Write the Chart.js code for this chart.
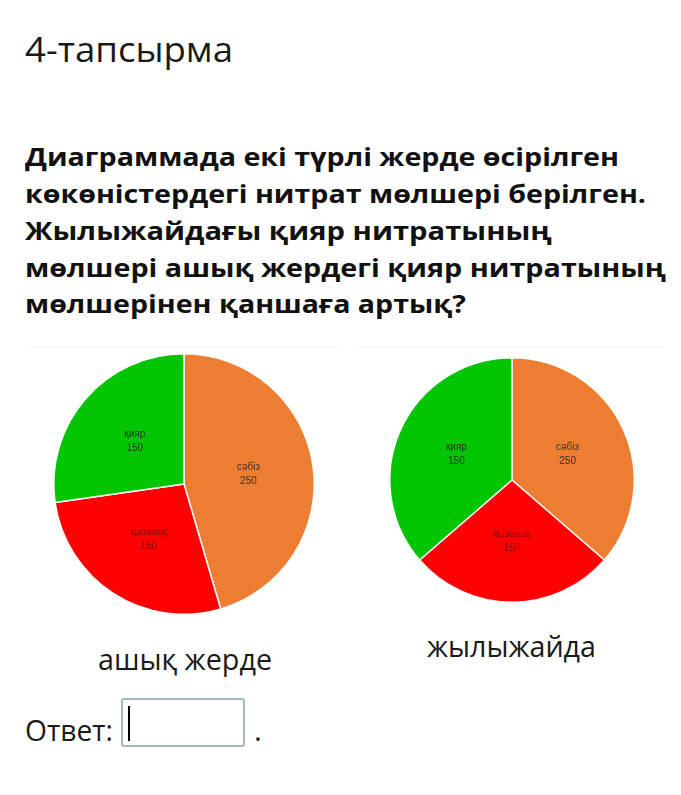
<!DOCTYPE html>
<html>
<head>
<meta charset="utf-8">
<script src="https://cdn.jsdelivr.net/npm/chart.js@4/dist/chart.umd.min.js"></script>
<style>
  html, body { margin: 0; padding: 0; background: #fff; }
  body { width: 681px; height: 795px; position: relative; overflow: hidden; font-family: "Open Sans", sans-serif; color: #111; }
  .t { position: absolute; white-space: nowrap; transform-origin: 0 0; line-height: 1; }
  .title { font-size: 35px; font-weight: 400; color: #1a1a1a; }
  .q { font-size: 25px; font-weight: 700; color: #111; }
  .cap { font-size: 30px; font-weight: 400; color: #1a1a1a; }
  .sep { position: absolute; height: 1px; background: #f2f2f2; }
  canvas { position: absolute; }
  .box { position: absolute; left: 121px; top: 698px; width: 120px; height: 45px; border: 2px solid #a3babd; border-radius: 3px; background: #fff; }
  .cursor { position: absolute; left: 128px; top: 706px; width: 2px; height: 35px; background: #000; }
</style>
</head>
<body>
<div class="t title" data-x="25" data-base="62" data-w="208">4-тапсырма</div>

<div class="t q" data-x="25" data-base="166" data-w="594">Диаграммада екі түрлі жерде өсірілген</div>
<div class="t q" data-x="25" data-base="203" data-w="621">көкөністердегі нитрат мөлшері берілген.</div>
<div class="t q" data-x="25" data-base="240" data-w="527">Жылыжайдағы қияр нитратының</div>
<div class="t q" data-x="25" data-base="277" data-w="641">мөлшері ашық жердегі қияр нитратының</div>
<div class="t q" data-x="25" data-base="313" data-w="441">мөлшерінен қаншаға артық?</div>

<div class="sep" style="left:28px; top:347px; width:312px;"></div>
<div class="sep" style="left:357px; top:347px; width:308px;"></div>

<canvas id="pieOpen" width="270" height="270" style="left:49px; top:349px; width:270px; height:270px;"></canvas>
<canvas id="pieGreen" width="254" height="254" style="left:385px; top:353px; width:254px; height:254px;"></canvas>

<div class="t cap" data-x="98" data-base="670" data-w="174">ашық жерде</div>
<div class="t cap" data-x="427" data-base="657" data-w="169">жылыжайда</div>

<div class="t cap" data-x="25" data-base="741" data-w="88">Ответ:</div>
<div class="box"></div>
<div class="cursor"></div>
<div class="t cap" data-x="254" data-base="741">.</div>

<script>
// ---- data ----
const categories = ['сәбіз', 'қызанақ', 'қияр'];
const sliceColors = ['#ED7D31', '#FF0000', '#00C500'];
// ашық жерде (open ground) values, as labelled
const openGroundValues = [250, 150, 150];
// жылыжайда (greenhouse) values, as labelled in the picture
const greenhouseValues = [250, 150, 150];
// greenhouse slice shares (~131°, ~98°, ~131°)
const greenhouseSliceShares = [200, 150, 200];

// ---- text placement (baseline-aligned, width-fitted) ----
function placeTexts() {
  document.querySelectorAll('.t').forEach(el => {
    const fs = parseFloat(getComputedStyle(el).fontSize);
    const x = parseFloat(el.dataset.x);
    const base = parseFloat(el.dataset.base);
    // approximate ascent for Open Sans with line-height 1
    const c = document.createElement('canvas').getContext('2d');
    c.font = getComputedStyle(el).fontWeight + ' ' + fs + 'px "Open Sans"';
    const m = c.measureText(el.textContent);
    const natural = m.width;
    const asc = m.fontBoundingBoxAscent !== undefined ? m.fontBoundingBoxAscent : fs * 0.9;
    const desc = m.fontBoundingBoxDescent !== undefined ? m.fontBoundingBoxDescent : fs * 0.25;
    // with line-height 1, baseline sits at (fs - (asc+desc))/2 + asc from the top
    const baseOffset = (fs - (asc + desc)) / 2 + asc;
    el.style.left = x + 'px';
    el.style.top = (base - baseOffset) + 'px';
    if (el.dataset.w) {
      const sx = parseFloat(el.dataset.w) / natural;
      el.style.transform = 'scaleX(' + sx + ')';
    }
  });
}

// ---- slice labels plugin ----
function makeLabelPlugin(labelValues) {
  return {
    id: 'sliceLabels',
    afterDatasetsDraw(chart) {
      const ctx = chart.ctx;
      const meta = chart.getDatasetMeta(0);
      ctx.save();
      ctx.font = '10px "Liberation Sans", Arial, sans-serif';
      ctx.textAlign = 'center';
      ctx.textBaseline = 'middle';
      meta.data.forEach((arc, i) => {
        const p = arc.tooltipPosition();
        ctx.fillStyle = i === 1 ? 'rgba(90,0,0,0.75)' : 'rgba(30,30,30,0.85)';
        ctx.fillText(chart.data.labels[i], p.x, p.y - 7);
        ctx.fillText(String(labelValues[i]), p.x, p.y + 7);
      });
      ctx.restore();
    }
  };
}

function makePie(id, values, labelValues) {
  return new Chart(document.getElementById(id), {
    type: 'pie',
    data: {
      labels: categories,
      datasets: [{
        data: values,
        backgroundColor: sliceColors,
        borderColor: '#ffffff',
        borderWidth: 1.5
      }]
    },
    options: {
      responsive: false,
      animation: false,
      layout: { padding: 4 },
      plugins: { legend: { display: false }, tooltip: { enabled: false } }
    },
    plugins: [makeLabelPlugin(labelValues)]
  });
}

function init() {
  placeTexts();
  makePie('pieOpen', openGroundValues, openGroundValues);
  makePie('pieGreen', greenhouseSliceShares, greenhouseValues);
}
if (document.fonts && document.fonts.ready) {
  document.fonts.load('700 25px "Open Sans"').then(() => document.fonts.load('400 30px "Open Sans"')).then(init, init);
} else { init(); }
</script>
</body>
</html>
